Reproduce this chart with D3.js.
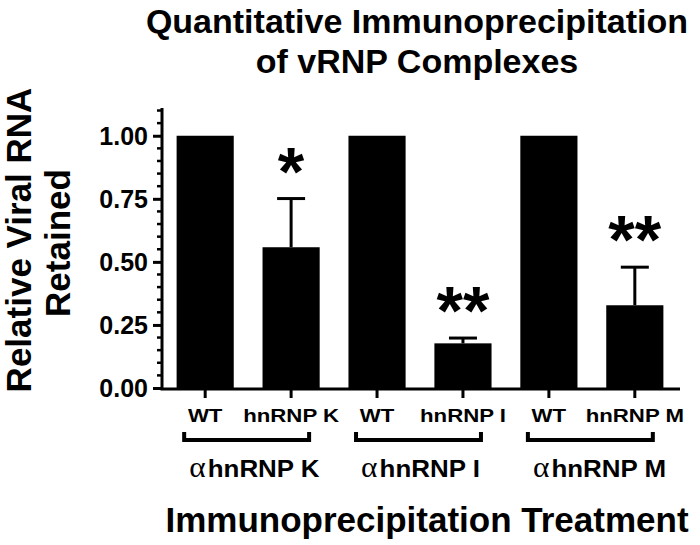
<!DOCTYPE html>
<html><head><meta charset="utf-8">
<script src="https://cdn.jsdelivr.net/npm/d3@7"></script>
<style>
html,body{margin:0;padding:0;background:#fff;}
svg text{font-family:"Liberation Sans",Arial,sans-serif;font-weight:bold;fill:#000;}
</style></head>
<body>
<svg id="chart" width="700" height="545"></svg>
<script>
const categories = ["WT","hnRNP K","WT","hnRNP I","WT","hnRNP M"];
const values = [1.00, 0.558, 1.00, 0.177, 1.00, 0.328];
const errors = [0, 0.193, 0, 0.021, 0, 0.151];
const stars = ["", "*", "", "**", "", "**"];
const groups = ["hnRNP K","hnRNP I","hnRNP M"];
const yTicks = [0, 0.25, 0.5, 0.75, 1.0];
const yMinorTicks = [0.05,0.1,0.15,0.2,0.3,0.35,0.4,0.45,0.55,0.6,0.65,0.7,0.8,0.85,0.9,0.95,1.05,1.1];

const svg = d3.select("#chart");
const x = d3.scaleBand().domain(d3.range(categories.length)).range([162, 678]).paddingInner(0.335).paddingOuter(0.17);
const y = d3.scaleLinear().domain([0, 1.11]).range([388, 108]);

// bars
svg.selectAll("rect.bar").data(values).join("rect")
  .attr("x", (d,i)=>x(i)).attr("y", d=>y(d))
  .attr("width", x.bandwidth()).attr("height", d=>y(0)-y(d))
  .attr("fill", "#000");

// error bars (upper only)
const eb = svg.append("g").attr("stroke","#000").attr("stroke-width",3);
values.forEach((v,i)=>{
  if(!errors[i]) return;
  const cx = x(i)+x.bandwidth()/2;
  eb.append("line").attr("x1",cx).attr("x2",cx).attr("y1",y(v)).attr("y2",y(v+errors[i]));
  eb.append("line").attr("x1",cx-14).attr("x2",cx+14).attr("y1",y(v+errors[i])).attr("y2",y(v+errors[i]));
});

// stars
svg.selectAll("text.star").data(stars).join("text")
  .attr("class","star")
  .attr("x",(d,i)=>x(i)+x.bandwidth()/2)
  .attr("y",(d,i)=>y(values[i]+errors[i])-4)
  .attr("text-anchor","middle")
  .style("font-size","68px")
  .text(d=>d);

// y axis
const yAxis = svg.append("g").attr("transform","translate(162,0)");
yAxis.call(d3.axisLeft(y).tickValues(yTicks).tickFormat(d3.format(".2f")).tickSize(9).tickPadding(5))
yAxis.select(".domain").remove();
yAxis.selectAll(".tick line").attr("stroke","#000").attr("stroke-width",3);
yAxis.selectAll(".tick text").style("font-size","25px").style("font-family","'Liberation Sans',Arial,sans-serif").style("font-weight","bold").attr("dy","0.35em");
yAxis.selectAll("line.minor").data(yMinorTicks).join("line")
  .attr("class","minor").attr("x1",-5).attr("x2",0)
  .attr("y1",d=>y(d)).attr("y2",d=>y(d)).attr("stroke","#000").attr("stroke-width",2.5);
yAxis.append("line").attr("x1",0).attr("x2",0).attr("y1",y(1.11)).attr("y2",y(0)+1.5)
  .attr("stroke","#000").attr("stroke-width",3);

// x axis
const xAxis = svg.append("g").attr("transform","translate(0,389)");
xAxis.call(d3.axisBottom(x).tickFormat(i=>categories[i]).tickSize(9).tickPadding(6));
xAxis.select(".domain").remove();
xAxis.append("line").attr("x1",160.5).attr("x2",680).attr("y1",0).attr("y2",0).attr("stroke","#000").attr("stroke-width",3);
xAxis.selectAll(".tick line").attr("stroke","#000").attr("stroke-width",3);
xAxis.selectAll(".tick text").style("font-size","19px").style("font-family","'Liberation Sans',Arial,sans-serif").style("font-weight","bold")
  .attr("y",33).attr("dy",null).attr("transform","scale(1.17,1)");

// group brackets
groups.forEach((g,k)=>{
  const c1 = x(2*k)+x.bandwidth()/2, c2 = x(2*k+1)+x.bandwidth()/2;
  const l = c1-21, r = c2+18;
  svg.append("path").attr("d",`M${l},432V440H${r}V432`).attr("fill","none").attr("stroke","#000").attr("stroke-width",4);
  const t = svg.append("text").attr("transform",`translate(${l+5},477) scale(1.08,1)`).attr("text-anchor","start").style("font-size","24px");
  t.append("tspan").style("font-family","'Liberation Serif','Times New Roman',serif").style("font-weight","normal").style("font-size","29px").text("α");
  t.append("tspan").attr("dx",2).text(g);
});

// titles
svg.append("text").attr("x",417).attr("y",33).attr("text-anchor","middle").style("font-size","34px").text("Quantitative Immunoprecipitation");
svg.append("text").attr("x",417).attr("y",73).attr("text-anchor","middle").style("font-size","34px").text("of vRNP Complexes");
svg.append("text").attr("x",427).attr("y",532).attr("text-anchor","middle").style("font-size","35px").text("Immunoprecipitation Treatment");
svg.append("text").attr("transform","translate(31,240) rotate(-90)").attr("text-anchor","middle").style("font-size","35px").text("Relative Viral RNA");
svg.append("text").attr("transform","translate(70,243) rotate(-90)").attr("text-anchor","middle").style("font-size","35px").text("Retained");
</script>
</body></html>
